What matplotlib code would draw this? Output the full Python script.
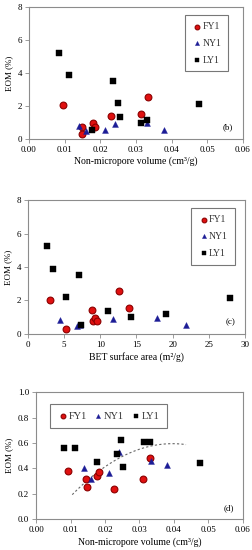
import numpy as np
import matplotlib
matplotlib.use("Agg")
import matplotlib.pyplot as plt

plt.rcParams['font.family'] = ['Liberation Serif', 'DejaVu Serif']
plt.rcParams['font.size'] = 6.5

# (b) EOM vs non-micropore volume
fy_vol = [0.0095, 0.0148, 0.0150, 0.0180, 0.0185, 0.0230, 0.0313, 0.0333]
fy_eom = [2.05, 0.75, 0.32, 0.95, 0.75, 1.40, 1.52, 2.55]
ny_vol = [0.0140, 0.0160, 0.0213, 0.0240, 0.0330, 0.0380]
ny_eom = [0.82, 0.50, 0.55, 0.90, 0.95, 0.55]
ly_vol = [0.0083, 0.0113, 0.0178, 0.0237, 0.0250, 0.0255, 0.0315, 0.0330, 0.0478]
ly_eom = [5.25, 3.87, 0.55, 3.52, 2.18, 1.37, 1.00, 1.18, 2.15]

# (c) EOM vs BET surface area
fy_bet = [3.1, 5.2, 8.9, 9.0, 9.2, 9.6, 12.6, 14.0]
fy_eom_c = [2.05, 0.32, 1.40, 0.75, 0.95, 0.75, 2.55, 1.52]
ny_bet = [4.4, 6.8, 7.2, 11.8, 17.8, 21.9]
ny_eom_c = [0.80, 0.45, 0.52, 0.87, 0.95, 0.52]
ly_bet = [2.7, 3.4, 5.3, 7.1, 7.3, 11.0, 14.3, 19.1, 28.0]
ly_eom_c = [5.25, 3.87, 2.18, 3.52, 0.52, 1.35, 0.98, 1.18, 2.13]

# (d) EOM vs non-micropore volume (second set)
fy_vol_d = [0.0093, 0.0145, 0.0148, 0.0177, 0.0183, 0.0225, 0.0310, 0.0330]
fy_eom_d = [0.38, 0.32, 0.25, 0.34, 0.375, 0.235, 0.32, 0.485]
ny_vol_d = [0.0138, 0.0160, 0.0213, 0.0240, 0.0333, 0.0380]
ny_eom_d = [0.405, 0.315, 0.365, 0.53, 0.46, 0.43]
ly_vol_d = [0.0082, 0.0112, 0.0177, 0.0235, 0.0247, 0.0253, 0.0313, 0.0330, 0.0475]
ly_eom_d = [0.56, 0.56, 0.45, 0.515, 0.62, 0.41, 0.605, 0.605, 0.44]

# dashed trend in (d): y = c0 + c1*x + c2*x^2
trend_coef = [-0.149, 37.56, -474.4]
trend_range = [0.0105, 0.0435]

red_face, red_edge = '#e01010', '#8b0000'
blue = '#1c1c96'
spine_col = '#8c8c8c'


def style_ax(ax):
    for s in ax.spines.values():
        s.set_color(spine_col)
        s.set_linewidth(0.8)
    ax.tick_params(direction='out', length=3, width=0.6, color=spine_col,
                   labelsize=6.5, pad=2)


def draw(ax, fx, fy, nx, ny, lx, ly):
    ax.scatter(fx, fy, s=24, marker='o', facecolor=red_face, edgecolor=red_edge,
               linewidth=0.8, label='FY1', zorder=3)
    ax.scatter(nx, ny, s=18, marker='^', facecolor=blue, edgecolor=blue,
               linewidth=0.3, label='NY1', zorder=3)
    ax.scatter(lx, ly, s=22, marker='s', facecolor='black', edgecolor='black',
               linewidth=0.3, label='LY1', zorder=3)


def box_legend(ax, **kw):
    leg = ax.legend(frameon=True, fancybox=False, edgecolor='#555555',
                    handletextpad=0.0, handlelength=1.1, markerscale=0.7,
                    labelcolor='#333333', **kw)
    leg.get_frame().set_linewidth(0.8)
    return leg


fig = plt.figure(figsize=(2.52, 5.5), dpi=100)
ax1 = fig.add_axes([0.115, 0.747, 0.849, 0.240])
ax2 = fig.add_axes([0.111, 0.393, 0.861, 0.243])
ax3 = fig.add_axes([0.143, 0.056, 0.821, 0.231])

# (b)
draw(ax1, fy_vol, fy_eom, ny_vol, ny_eom, ly_vol, ly_eom)
ax1.set_xlim(0, 0.06)
ax1.set_ylim(0, 8)
ax1.set_xticks(np.arange(0, 0.061, 0.01))
ax1.set_xticklabels([f'{v:.2f}' for v in np.arange(0, 0.061, 0.01)])
ax1.set_yticks(range(0, 9, 2))
ax1.set_xlabel('Non-micropore volume (cm³/g)', fontsize=7, labelpad=2)
ax1.set_ylabel('EOM (%)', fontsize=6.5, labelpad=3)
ax1.text(0.93, 0.09, '(b)', transform=ax1.transAxes, ha='center', va='center', fontsize=6.5)
style_ax(ax1)
box_legend(ax1, loc='upper right', bbox_to_anchor=(0.955, 0.975), labelspacing=0.8,
           borderpad=0.7, fontsize=7)

# (c)
draw(ax2, fy_bet, fy_eom_c, ny_bet, ny_eom_c, ly_bet, ly_eom_c)
ax2.set_xlim(0, 30)
ax2.set_ylim(0, 8)
ax2.set_xticks(range(0, 31, 5))
ax2.set_yticks(range(0, 9, 2))
ax2.set_xlabel('BET surface area (m²/g)', fontsize=7, labelpad=2)
ax2.set_ylabel('EOM (%)', fontsize=6.5, labelpad=3)
ax2.text(0.935, 0.09, '(c)', transform=ax2.transAxes, ha='center', va='center', fontsize=6.5)
style_ax(ax2)
box_legend(ax2, loc='upper right', bbox_to_anchor=(0.975, 0.975), labelspacing=0.8,
           borderpad=0.7, fontsize=7)

# (d)
draw(ax3, fy_vol_d, fy_eom_d, ny_vol_d, ny_eom_d, ly_vol_d, ly_eom_d)
xt = np.linspace(trend_range[0], trend_range[1], 100)
ax3.plot(xt, np.polyval(trend_coef[::-1], xt), ls=(0, (2, 2)), color='#666666', lw=0.8, zorder=2)
ax3.set_xlim(0, 0.06)
ax3.set_ylim(0, 1.0)
ax3.set_xticks(np.arange(0, 0.061, 0.01))
ax3.set_xticklabels([f'{v:.2f}' for v in np.arange(0, 0.061, 0.01)])
ax3.set_yticks(np.arange(0, 1.01, 0.2))
ax3.set_yticklabels([f'{v:.1f}' for v in np.arange(0, 1.01, 0.2)])
ax3.set_xlabel('Non-micropore volume (cm³/g)', fontsize=7, labelpad=2)
ax3.set_ylabel('EOM (%)', fontsize=6.5, labelpad=3)
ax3.text(0.93, 0.09, '(d)', transform=ax3.transAxes, ha='center', va='center', fontsize=6.5)
style_ax(ax3)
box_legend(ax3, loc='upper left', bbox_to_anchor=(0.04, 0.945), ncol=3,
           columnspacing=0.6, borderpad=0.7, fontsize=7.5)

fig.savefig('out.png', dpi=100)
